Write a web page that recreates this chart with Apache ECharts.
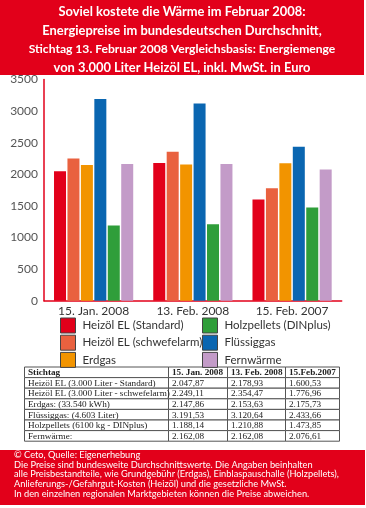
<!DOCTYPE html>
<html>
<head>
<meta charset="utf-8">
<script src="https://cdn.jsdelivr.net/npm/echarts@6/dist/echarts.min.js"></script>
<style>
  html, body { margin: 0; padding: 0; background: #fff; }
  #main { width: 366px; height: 508px; }
</style>
</head>
<body>
<div id="main"></div>
<script>
// Stichtage (Kategorien)
var categories = ["15. Jan. 2008", "13. Feb. 2008", "15. Feb. 2007"];
var tableHeads = ["Stichtag", "15. Jan. 2008", "13. Feb. 2008", "15.Feb.2007"];

// Preise in Euro
var heizoelStandard = [2047.87, 2178.93, 1600.53];
var heizoelSchwefelarm = [2249.11, 2354.47, 1776.96];
var erdgas = [2147.86, 2153.63, 2175.73];
var fluessiggas = [3191.53, 3120.64, 2433.66];
var holzpellets = [1188.14, 1210.88, 1473.85];
var fernwaerme = [2162.08, 2162.08, 2076.61];

var seriesNames = ["Heizöl EL (Standard)", "Heizöl EL (schwefelarm)", "Erdgas",
  "Flüssiggas", "Holzpellets (DINplus)", "Fernwärme"];
var tableLabels = ["Heizöl EL (3.000 Liter - Standard)", "Heizöl EL (3.000 Liter - schwefelarm)",
  "Erdgas: (33.540 kWh)", "Flüssiggas: (4.603 Liter)", "Holzpellets (6100 kg - DINplus)", "Fernwärme:"];
var yTicks = [0, 500, 1000, 1500, 2000, 2500, 3000, 3500];

(function() {
  var myChart = echarts.init(document.getElementById("main"));
  var allData = [heizoelStandard, heizoelSchwefelarm, erdgas, fluessiggas, holzpellets, fernwaerme];
  var colors = ["#e2001a", "#e9613f", "#f29400", "#0a66b1", "#2f9e3a", "#c39bc8"];
  var red = "#e2001a";
  var font = "Lato";

  // 2.047,87
  function fmt(v) {
    var s = v.toFixed(2).split(".");
    return s[0].replace(/\B(?=(\d{3})+(?!\d))/g, ".") + "," + s[1];
  }

  var series = [];
  for (var i = 0; i < seriesNames.length; i++) {
    series.push({
      name: seriesNames[i],
      type: "bar",
      barWidth: 12,
      barGap: "12%",
      data: allData[i],
      itemStyle: { color: colors[i] }
    });
  }

  // Kopf, Fuss und Tabelle
  var graphics = [
    { type: "rect", left: 0, top: 0, shape: { width: 364, height: 75 }, style: { fill: red }, z: 0 },
    { type: "rect", left: 0, top: 450, shape: { width: 365, height: 55 }, style: { fill: red }, z: 0 },
    {
      type: "text", left: 14, top: 450.5, z: 1,
      style: {
        text: "© Ceto, Quelle: Eigenerhebung\n" +
          "Die Preise sind bundesweite Durchschnittswerte. Die Angaben beinhalten\n" +
          "alle Preisbestandteile, wie Grundgebühr (Erdgas), Einblaspauschalle (Holzpellets),\n" +
          "Anlieferungs-/Gefahrgut-Kosten (Heizöl) und die gesetzliche MwSt.\n" +
          "In den einzelnen regionalen Marktgebieten können die Preise abweichen.",
        fill: "#fff", font: "9.25px " + font, lineHeight: 9.6
      }
    }
  ];
  var colX = [24, 168, 227, 285, 339];
  var rowTop = 367, rowH = 10.6;
  var rows = [tableHeads];
  for (var r = 0; r < tableLabels.length; r++) {
    rows.push([tableLabels[r], fmt(allData[r][0]), fmt(allData[r][1]), fmt(allData[r][2])]);
  }
  for (var r = 0; r < rows.length; r++) {
    for (var c = 0; c < 4; c++) {
      graphics.push({
        type: "rect", z: 1,
        shape: { x: colX[c] + 0.5, y: rowTop + r * rowH, width: colX[c + 1] - colX[c], height: rowH },
        style: { fill: "#fff", stroke: "#555", lineWidth: 1 }
      });
      graphics.push({
        type: "text", z: 2,
        x: colX[c] + 4, y: rowTop + r * rowH + rowH / 2 + 0.5,
        style: {
          text: rows[r][c], fill: "#222", verticalAlign: "middle",
          font: (r === 0 ? "bold " : "") + "9.2px 'Liberation Serif'"
        }
      });
    }
  }

  var legendBase = {
    orient: "vertical", top: 317.5, padding: 0,
    itemWidth: 15, itemHeight: 15, itemGap: 1.2, icon: "rect",
    itemStyle: { borderColor: "#444", borderWidth: 1 },
    textStyle: { color: "#333", fontFamily: font, fontSize: 11.5, padding: [0, 0, 0, 2] }
  };

  var option = {
    color: colors,
    animation: false,
    title: {
      text: "{a|Soviel kostete die Wärme im Februar 2008:}\n{a|Energiepreise im bundesdeutschen Durchschnitt,}\n{c|Stichtag 13. Februar 2008 Vergleichsbasis: Energiemenge}\n{a|von 3.000 Liter Heizöl EL, inkl. MwSt. in Euro}",
      left: 182, top: 3, textAlign: "center", z: 10, padding: 0,
      textStyle: {
        color: "#fff", fontFamily: font, fontWeight: "bold", fontSize: 13, lineHeight: 18.5,
        rich: {
          a: { color: "#fff", fontFamily: font, fontWeight: "bold", fontSize: 12.9, lineHeight: 18.5 },
          c: { color: "#fff", fontFamily: font, fontWeight: "bold", fontSize: 12.1, lineHeight: 18.5 }
        }
      }
    },
    grid: { left: 44, top: 79.4, right: 24.3, bottom: 207.3 },
    legend: [
      Object.assign({}, legendBase, { data: seriesNames.slice(0, 3), left: 60 }),
      Object.assign({}, legendBase, { data: [seriesNames[4], seriesNames[3], seriesNames[5]], left: 202 })
    ],
    xAxis: {
      type: "category",
      data: categories,
      axisLine: { lineStyle: { color: red, width: 1.5 } },
      axisTick: { inside: true, length: 5, lineStyle: { color: red, width: 1.5 } },
      axisLabel: { color: "#333", fontFamily: font, fontSize: 12, margin: 4 }
    },
    yAxis: {
      type: "value",
      min: yTicks[0], max: yTicks[yTicks.length - 1], interval: 500,
      axisLine: { show: true, lineStyle: { color: red, width: 1.5 } },
      axisTick: { show: false },
      splitLine: { show: false },
      axisLabel: {
        color: "#555", fontFamily: font, fontSize: 12, margin: 6,
        formatter: function(v) { return String(v); }
      }
    },
    graphic: graphics,
    series: series
  };

  myChart.setOption(option);
  window.addEventListener("resize", function() {
    myChart.resize();
  });
})();
</script>
</body>
</html>
